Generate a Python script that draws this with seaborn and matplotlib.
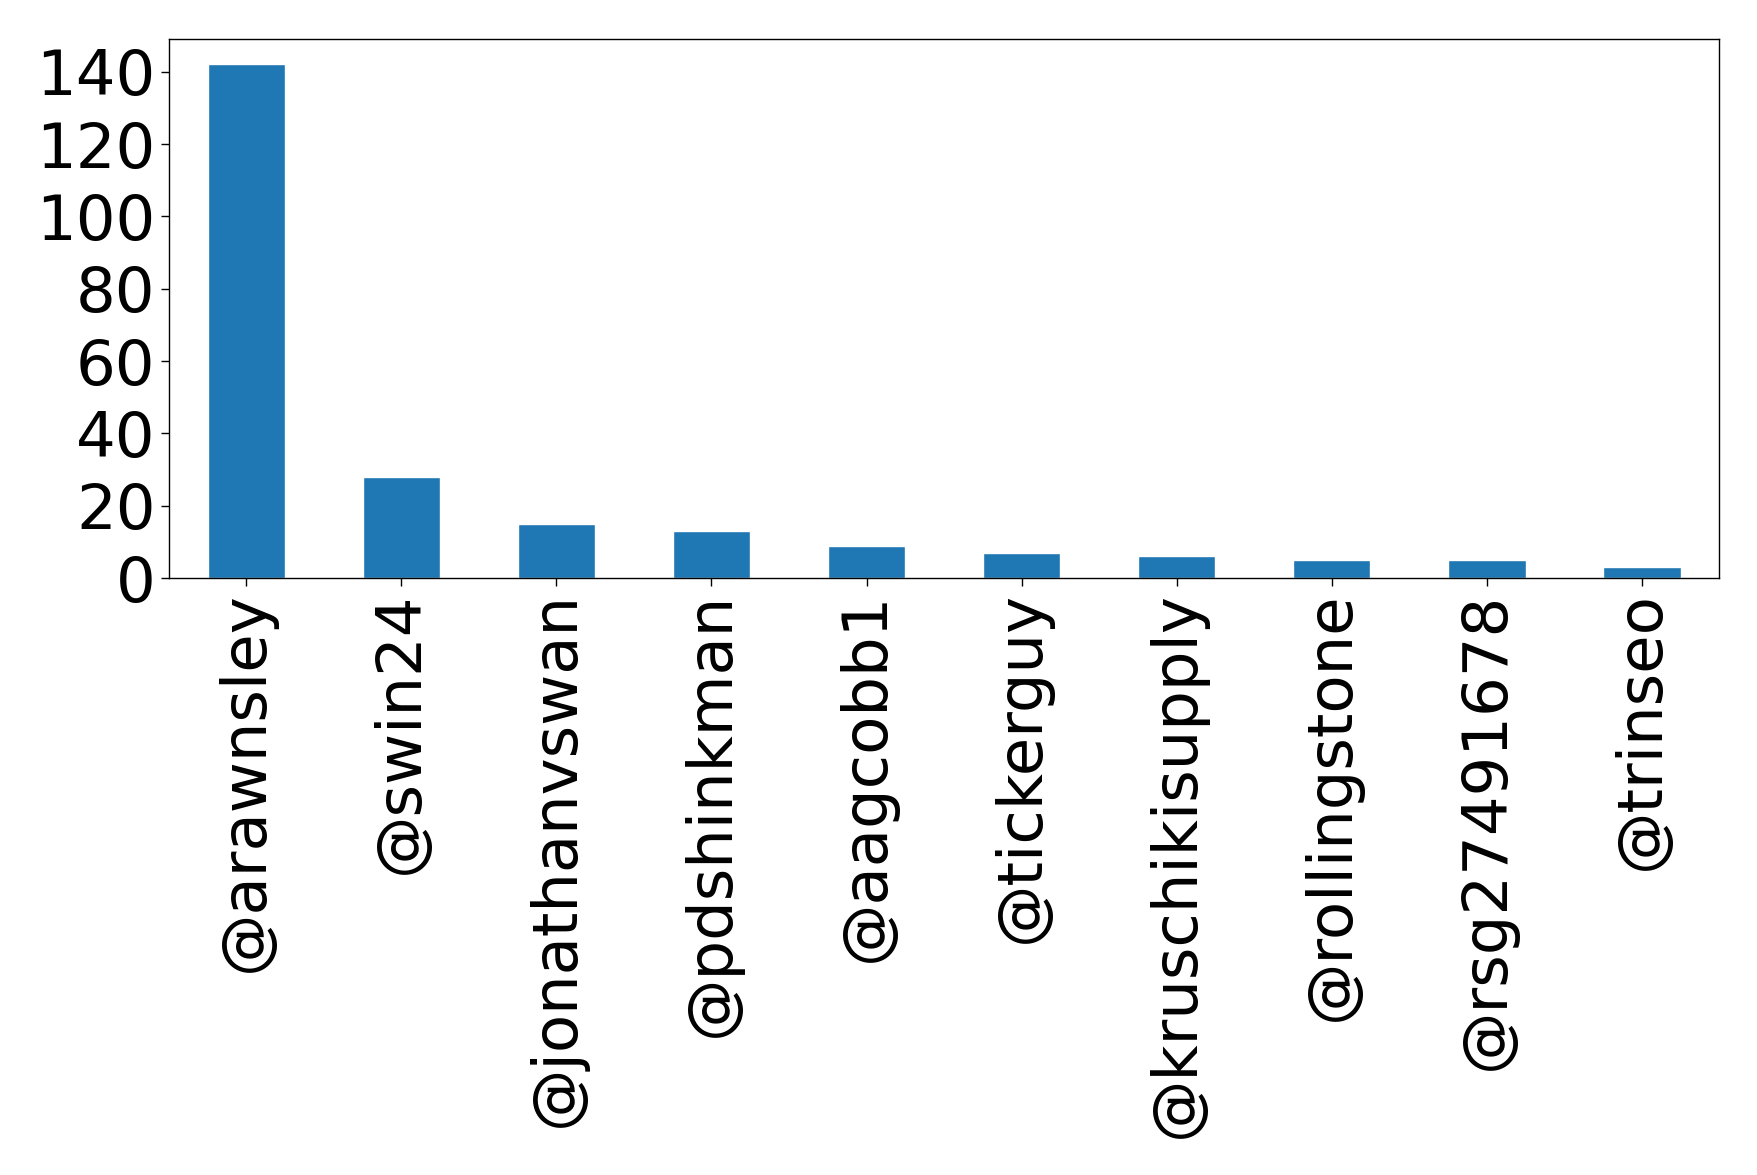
import matplotlib
matplotlib.use("Agg")
import matplotlib.pyplot as plt
import seaborn as sns
import pandas as pd

# mentions per user
users = ["@arawnsley", "@swin24", "@jonathanvswan", "@pdshinkman", "@aagcobb1",
         "@tickerguy", "@kruschikisupply", "@rollingstone", "@rsg27491678", "@trinseo"]
counts = [142, 28, 15, 13, 9, 7, 6, 5, 5, 3]
yticks = [0, 20, 40, 60, 80, 100, 120, 140]

df = pd.DataFrame({"user": users, "count": counts})

sns.set_style("white")
plt.rcParams["font.family"] = ["DejaVu Sans"]
plt.rcParams["text.color"] = "black"
plt.rcParams["xtick.color"] = "black"
plt.rcParams["ytick.color"] = "black"

fig, ax = plt.subplots(figsize=(17.58, 11.75), dpi=100)
sns.barplot(data=df, x="user", y="count", color="#1f77b4", saturation=1,
            width=0.5, ax=ax)
ax.set_xlim(-0.5, len(users) - 0.5)
ax.set_ylim(0, max(counts) * 1.05)
ax.set_yticks(yticks)
ax.set_xlabel("")
ax.set_ylabel("")
ax.tick_params(axis="both", labelsize=45, length=6, width=1, bottom=True, left=True,
               colors="black")
plt.setp(ax.get_xticklabels(), rotation=90)
for s in ax.spines.values():
    s.set_visible(True)
    s.set_color("black")
    s.set_linewidth(1)

fig.subplots_adjust(left=0.096, right=0.978, top=0.967, bottom=0.508)
fig.savefig("out.png", dpi=100)
